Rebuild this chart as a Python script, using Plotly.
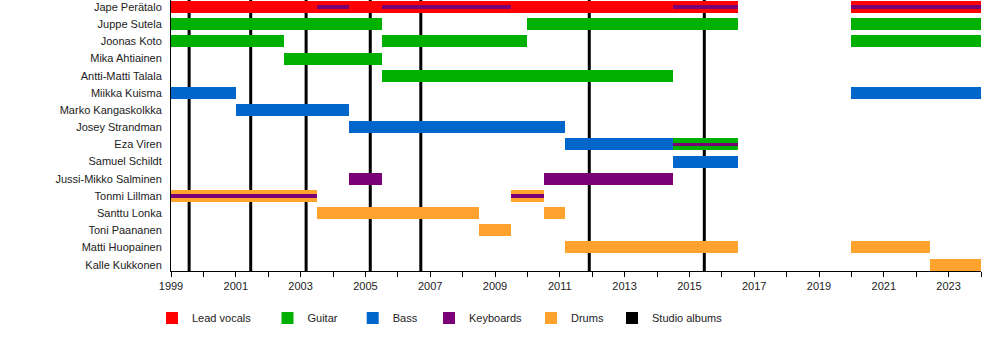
import plotly.graph_objects as go

members = ["Jape Perätalo", "Juppe Sutela", "Joonas Koto", "Mika Ahtiainen",
           "Antti-Matti Talala", "Miikka Kuisma", "Marko Kangaskolkka",
           "Josey Strandman", "Eza Viren", "Samuel Schildt",
           "Jussi-Mikko Salminen", "Tonmi Lillman", "Santtu Lonka",
           "Toni Paananen", "Matti Huopainen", "Kalle Kukkonen"]

vocals = [("Jape Perätalo", 1999.0, 2016.5), ("Jape Perätalo", 2020.0, 2024.0)]
guitar = [("Juppe Sutela", 1999.0, 2005.5), ("Juppe Sutela", 2010.0, 2016.5),
          ("Juppe Sutela", 2020.0, 2024.0),
          ("Joonas Koto", 1999.0, 2002.5), ("Joonas Koto", 2005.5, 2010.0),
          ("Joonas Koto", 2020.0, 2024.0),
          ("Mika Ahtiainen", 2002.5, 2005.5),
          ("Antti-Matti Talala", 2005.5, 2014.5),
          ("Eza Viren", 2014.5, 2016.5)]
bass = [("Miikka Kuisma", 1999.0, 2001.0), ("Miikka Kuisma", 2020.0, 2024.0),
        ("Marko Kangaskolkka", 2001.0, 2004.5),
        ("Josey Strandman", 2004.5, 2011.17),
        ("Eza Viren", 2011.17, 2014.5),
        ("Samuel Schildt", 2014.5, 2016.5)]
keyboards = [("Jussi-Mikko Salminen", 2004.5, 2005.5),
             ("Jussi-Mikko Salminen", 2010.5, 2014.5)]
keyboards_secondary = [("Jape Perätalo", 2003.5, 2004.5), ("Jape Perätalo", 2005.5, 2009.5),
                       ("Jape Perätalo", 2014.5, 2016.5), ("Jape Perätalo", 2020.0, 2024.0),
                       ("Tonmi Lillman", 1999.0, 2003.5), ("Tonmi Lillman", 2009.5, 2010.5),
                       ("Eza Viren", 2014.5, 2016.5)]
drums = [("Tonmi Lillman", 1999.0, 2003.5), ("Tonmi Lillman", 2009.5, 2010.5),
         ("Santtu Lonka", 2003.5, 2008.5), ("Santtu Lonka", 2010.5, 2011.17),
         ("Toni Paananen", 2008.5, 2009.5),
         ("Matti Huopainen", 2011.17, 2016.5), ("Matti Huopainen", 2020.0, 2022.42),
         ("Kalle Kukkonen", 2022.42, 2024.0)]
studio_albums = [1999.56, 2001.46, 2003.17, 2005.15, 2006.71, 2011.91, 2015.46]

years = list(range(1999, 2025))
year_labels = [str(y) if y % 2 == 1 else "" for y in years]

roles = [("Lead vocals", vocals, "#FF0000"),
         ("Guitar", guitar, "#00B000"),
         ("Bass", bass, "#0066CC"),
         ("Keyboards", keyboards, "#7A0077"),
         ("Drums", drums, "#FFA22E")]

legend_left_px = [168, 283.5, 368.7, 445, 547, 628]

fig = go.Figure()
for i, (name, periods, color) in enumerate(roles):
    fig.add_trace(go.Bar(
        orientation="h",
        y=[p[0] for p in periods],
        base=[p[1] for p in periods],
        x=[p[2] - p[1] for p in periods],
        width=0.7,
        marker=dict(color=color, line=dict(width=0)),
        name=name,
        legend="legend" if i == 0 else f"legend{i+1}",
        hoverinfo="skip",
    ))

fig.add_trace(go.Bar(
    orientation="h",
    y=[p[0] for p in keyboards_secondary],
    base=[p[1] for p in keyboards_secondary],
    x=[p[2] - p[1] for p in keyboards_secondary],
    width=0.22,
    marker=dict(color="#7A0077", line=dict(width=0)),
    showlegend=False,
    hoverinfo="skip",
))

fig.add_trace(go.Bar(
    orientation="h", x=[None], y=[None], name="Studio albums",
    marker=dict(color="#000000", line=dict(width=0)),
    legend="legend6", hoverinfo="skip",
))

for a in studio_albums:
    fig.add_shape(type="line", xref="x", yref="paper", x0=a, x1=a, y0=0, y1=1,
                  line=dict(color="black", width=3), layer="below")

layout_legends = {}
for i, lx in enumerate(legend_left_px):
    key = "legend" if i == 0 else f"legend{i+1}"
    layout_legends[key] = dict(
        xref="container", yref="container",
        x=(lx - 16) / 1000, y=1 - 318 / 350,
        xanchor="left", yanchor="middle",
        orientation="h", bgcolor="rgba(0,0,0,0)",
        font=dict(family="Liberation Sans, Arial, sans-serif", size=11, color="#222"),
    )

fig.update_layout(
    width=1000, height=350,
    margin=dict(l=171, r=19, t=0, b=79),
    paper_bgcolor="white", plot_bgcolor="white",
    barmode="overlay", bargap=0,
    font=dict(family="Liberation Sans, Arial, sans-serif", size=11, color="#222"),
    xaxis=dict(range=[1999, 2024], tickmode="array", tickvals=years, ticktext=year_labels,
               ticks="outside", ticklen=5, tickcolor="black", tickwidth=1,
               showline=True, linecolor="black", linewidth=1, showgrid=False,
               zeroline=False, tickfont=dict(size=11, color="#222")),
    yaxis=dict(type="category", categoryorder="array", categoryarray=members,
               range=[15.37, -0.41], showline=True, linecolor="black", linewidth=1,
               showgrid=False, zeroline=False, ticks="", ticklabelstandoff=6,
               tickfont=dict(size=11, color="#222")),
    **layout_legends,
)

fig.write_html("out.html")
